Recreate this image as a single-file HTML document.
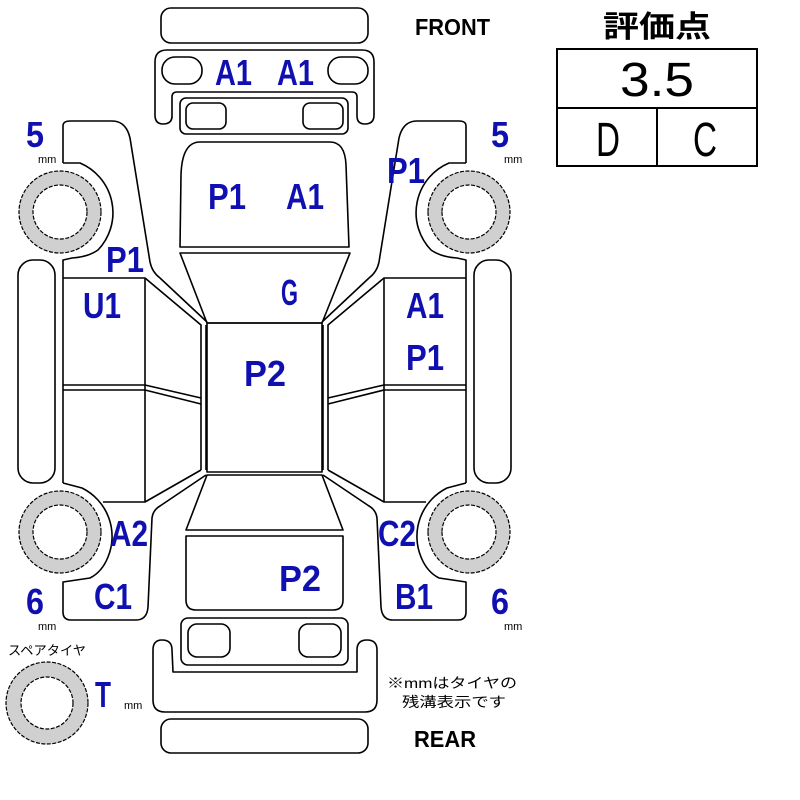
<!DOCTYPE html>
<html><head><meta charset="utf-8">
<style>html,body{margin:0;padding:0;background:#fff;}svg{display:block;}</style>
</head><body>
<svg width="800" height="800" viewBox="0 0 800 800" xmlns="http://www.w3.org/2000/svg">
<defs>
<g id="half" fill="none" stroke="#000" stroke-width="1.6" stroke-linejoin="round">
  <path d="M63,163 L63,126 Q63,121 70,121 L112,121 Q126,121 130,138 L150,262 Q152,272 160,278 L207,322"/>
  <path d="M63,163 L80,163 A54,54 0 0 1 98,250 Q88,257 72,258 L63,260 L63,278"/>
  <rect x="18" y="260" width="37" height="223" rx="15"/>
  <path d="M63,278 L145,278 L201,325 L201,470"/>
  <path d="M206,325 L206,470"/>
  <path d="M145,278 L145,502"/>
  <path d="M63,278 L63,483"/>
  <path d="M63,385 L145,385 L201,398"/>
  <path d="M63,390 L145,390 L201,404"/>
  <path d="M63,483 L82,488 A54,54 0 0 1 108,557 Q102,572 90,578 L63,582 L63,612 Q63,620 71,620 L136,620 Q147,620 148,607 L152,518 Q153,510 160,506 L206,475"/>
  <path d="M103,502 L145,502 L201,470"/>
  <g stroke-width="1.2" stroke-dasharray="4,1.5">
  <circle cx="60" cy="212" r="41" fill="#d0d0d0"/>
  <circle cx="60" cy="212" r="27" fill="#fff"/>
  <circle cx="60" cy="532" r="41" fill="#d0d0d0"/>
  <circle cx="60" cy="532" r="27" fill="#fff"/>
  </g>
</g>
</defs>
<g fill="none" stroke="#000" stroke-width="1.6" stroke-linejoin="round">
  <rect x="161" y="8" width="207" height="35" rx="10"/>
  <path d="M172,118 L172,97 Q172,92 177,92 L352,92 Q357,92 357,97 L357,116 Q357,124 365,124 Q374,124 374,115 L374,62 Q374,50 362,50 L167,50 Q155,50 155,62 L155,115 Q155,124 163,124 Q172,124 172,116 Z"/>
  <rect x="162" y="57" width="40" height="27" rx="13"/>
  <rect x="328" y="57" width="40" height="27" rx="13"/>
  <rect x="180" y="98" width="168" height="36" rx="6"/>
  <rect x="186" y="103" width="40" height="26" rx="7"/>
  <rect x="303" y="103" width="40" height="26" rx="7"/>
  <path d="M180,247 L181,175 Q182,142 200,142 L330,142 Q345,142 346,165 L349,247 Z"/>
  <path d="M180,253 L350,253 L322,323 L207,323 Z"/>
  <rect x="207" y="323" width="115" height="149"/>
  <path d="M207,475 L322,475 L343,530 L186,530 Z"/>
  <path d="M186,536 L343,536 L343,600 Q343,610 333,610 L196,610 Q186,610 186,600 Z"/>
  <rect x="181" y="618" width="167" height="47" rx="7"/>
  <rect x="188" y="624" width="42" height="33" rx="9"/>
  <rect x="299" y="624" width="42" height="33" rx="9"/>
  <path d="M172,650 Q172,640 162,640 Q153,640 153,650 L153,700 Q153,712 165,712 L365,712 Q377,712 377,700 L377,650 Q377,640 367,640 Q357,640 357,650 L357,672 L173,672 Z"/>
  <rect x="161" y="719" width="207" height="34" rx="10"/>
  <g stroke-width="1.2" stroke-dasharray="4,1.5">
  <circle cx="47" cy="703" r="41" fill="#d0d0d0"/>
  <circle cx="47" cy="703" r="26" fill="#fff"/>
  </g>
</g>
<use href="#half"/>
<use href="#half" transform="translate(529,0) scale(-1,1)"/>

<g fill="#1010b0" font-family="Liberation Sans, sans-serif" font-weight="bold" font-size="36">
  <text x="215" y="85" textLength="37" lengthAdjust="spacingAndGlyphs">A1</text>
  <text x="277" y="85" textLength="37" lengthAdjust="spacingAndGlyphs">A1</text>
  <text x="208" y="209" textLength="38" lengthAdjust="spacingAndGlyphs">P1</text>
  <text x="286" y="209" textLength="38" lengthAdjust="spacingAndGlyphs">A1</text>
  <text x="281" y="305" textLength="17" lengthAdjust="spacingAndGlyphs">G</text>
  <text x="244" y="386" textLength="42" lengthAdjust="spacingAndGlyphs">P2</text>
  <text x="279" y="591" textLength="42" lengthAdjust="spacingAndGlyphs">P2</text>
  <text x="106" y="272" textLength="38" lengthAdjust="spacingAndGlyphs">P1</text>
  <text x="83" y="318" textLength="38" lengthAdjust="spacingAndGlyphs">U1</text>
  <text x="110" y="546" textLength="38" lengthAdjust="spacingAndGlyphs">A2</text>
  <text x="94" y="609" textLength="38" lengthAdjust="spacingAndGlyphs">C1</text>
  <text x="387" y="183" textLength="38" lengthAdjust="spacingAndGlyphs">P1</text>
  <text x="406" y="318" textLength="38" lengthAdjust="spacingAndGlyphs">A1</text>
  <text x="406" y="370" textLength="38" lengthAdjust="spacingAndGlyphs">P1</text>
  <text x="378" y="546" textLength="38" lengthAdjust="spacingAndGlyphs">C2</text>
  <text x="395" y="609" textLength="38" lengthAdjust="spacingAndGlyphs">B1</text>
  <text x="26" y="147" textLength="18" lengthAdjust="spacingAndGlyphs">5</text>
  <text x="491" y="147" textLength="18" lengthAdjust="spacingAndGlyphs">5</text>
  <text x="26" y="614" textLength="18" lengthAdjust="spacingAndGlyphs">6</text>
  <text x="491" y="614" textLength="18" lengthAdjust="spacingAndGlyphs">6</text>
  <text x="95" y="707" textLength="16" lengthAdjust="spacingAndGlyphs">T</text>
</g>
<g fill="#000" font-family="Liberation Sans, sans-serif" font-size="11">
  <text x="38" y="163">mm</text>
  <text x="504" y="163">mm</text>
  <text x="38" y="630">mm</text>
  <text x="504" y="630">mm</text>
  <text x="124" y="709">mm</text>
</g>
<g fill="#000" font-family="Liberation Sans, 'Noto Sans CJK JP', sans-serif">
  <text x="8" y="655" font-size="13" textLength="78" lengthAdjust="spacingAndGlyphs">スペアタイヤ</text>
  <text x="415" y="35" font-size="23" font-weight="bold" textLength="75" lengthAdjust="spacingAndGlyphs">FRONT</text>
  <text x="414" y="747" font-size="23" font-weight="bold" textLength="62" lengthAdjust="spacingAndGlyphs">REAR</text>
  <text x="387" y="688" font-size="14" textLength="130" lengthAdjust="spacingAndGlyphs">※mmはタイヤの</text>
  <text x="402" y="707" font-size="14" textLength="104" lengthAdjust="spacingAndGlyphs">残溝表示です</text>
  <text x="603" y="37" font-size="30" font-weight="bold" textLength="108" lengthAdjust="spacingAndGlyphs">評価点</text>
</g>
<g fill="none" stroke="#000" stroke-width="2">
  <rect x="557" y="49" width="200" height="117"/>
  <line x1="557" y1="108" x2="757" y2="108"/>
  <line x1="657" y1="108" x2="657" y2="166"/>
</g>
<g fill="#000" font-family="Liberation Sans, sans-serif" font-size="48">
  <text x="620" y="96" textLength="74" lengthAdjust="spacingAndGlyphs">3.5</text>
  <text x="596" y="156" textLength="24" lengthAdjust="spacingAndGlyphs">D</text>
  <text x="693" y="156" textLength="24" lengthAdjust="spacingAndGlyphs">C</text>
</g>
</svg>
</body></html>
